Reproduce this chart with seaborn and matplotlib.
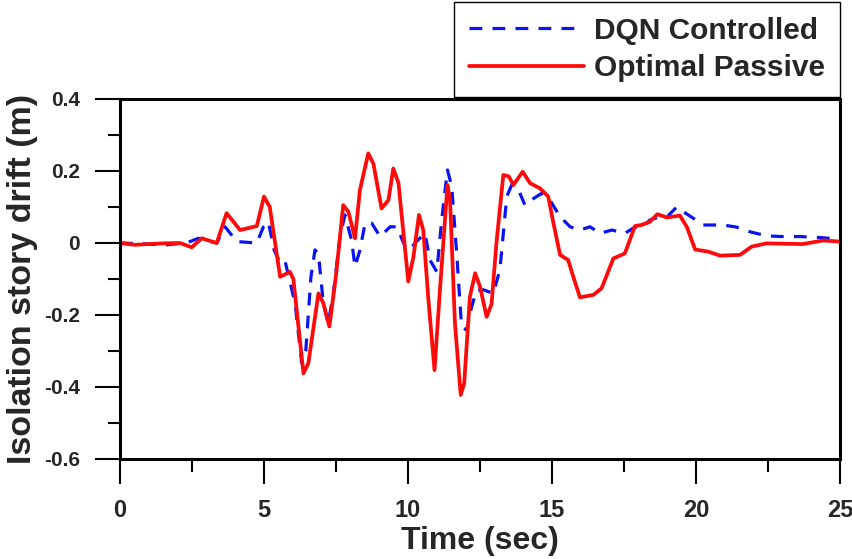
import matplotlib
matplotlib.use("Agg")
import matplotlib.pyplot as plt
import seaborn as sns
import numpy as np
import pandas as pd
from matplotlib.ticker import MultipleLocator, FuncFormatter

# ---- data ----
passive_t = [0, 0.5, 1.0, 1.5, 2.08, 2.49, 2.84, 3.36, 3.7, 4.17, 4.75, 5.0, 5.2, 5.56, 5.9, 6.02,
             6.37, 6.54, 6.89, 7.06, 7.27, 7.5, 7.75, 7.93, 8.16, 8.33, 8.62, 8.8, 9.08, 9.32, 9.49,
             9.67, 10.01, 10.19, 10.38, 10.53, 10.7, 10.92, 11.11, 11.37, 11.46, 11.63, 11.83, 11.95,
             12.15, 12.33, 12.5, 12.73, 12.9, 13.08, 13.31, 13.5, 13.66, 13.98, 14.24, 14.58, 14.87,
             15.05, 15.28, 15.56, 15.74, 15.97, 16.44, 16.72, 17.13, 17.53, 17.88, 18.1, 18.4, 18.66,
             18.98, 19.44, 19.68, 19.97, 20.43, 20.83, 21.53, 21.93, 22.45, 23.7, 24.42, 25.0]
passive_v = [0, -0.005, -0.003, -0.001, 0, -0.012, 0.013, 0, 0.083, 0.036, 0.047, 0.129, 0.10, -0.094,
             -0.08, -0.10, -0.362, -0.334, -0.14, -0.167, -0.232, -0.09, 0.105, 0.087, 0.013, 0.147,
             0.249, 0.22, 0.096, 0.119, 0.207, 0.166, -0.107, -0.038, 0.078, 0.036, -0.149, -0.353,
             -0.13, 0.161, 0.12, -0.223, -0.422, -0.39, -0.149, -0.084, -0.121, -0.205, -0.17, 0.008,
             0.189, 0.185, 0.161, 0.198, 0.166, 0.152, 0.129, 0.055, -0.033, -0.047, -0.094, -0.151,
             -0.144, -0.126, -0.043, -0.029, 0.047, 0.05, 0.059, 0.08, 0.071, 0.076, 0.045, -0.018,
             -0.024, -0.035, -0.033, -0.01, -0.001, -0.003, 0.007, 0.004]

dqn_t = [0, 1.0, 1.5, 2.0, 2.43, 2.72, 3.36, 3.65, 4.05, 4.75, 4.98, 5.15, 5.35, 5.56, 5.73, 6.08,
         6.31, 6.45, 6.63, 6.77, 6.89, 7.06, 7.23, 7.41, 7.64, 7.81, 8.04, 8.16, 8.33, 8.51, 8.74,
         9.03, 9.38, 9.61, 9.9, 10.07, 10.24, 10.59, 10.76, 11.0, 11.17, 11.37, 11.52, 11.69, 11.86,
         12.04, 12.21, 12.38, 12.62, 12.96, 13.19, 13.43, 13.6, 13.84, 14.06, 14.29, 14.64, 14.93,
         15.28, 15.63, 15.97, 16.32, 16.67, 17.08, 17.53, 17.88, 18.17, 18.4, 18.75, 19.0, 19.33,
         19.56, 19.9, 20.25, 20.95, 21.41, 21.88, 22.45, 22.92, 23.61, 24.31, 25.0]
dqn_v = [0, -0.003, -0.006, -0.002, 0.004, 0.013, 0, 0.045, 0.004, 0, 0.045, 0.059, -0.019, -0.056,
         -0.05, -0.168, -0.334, -0.3, -0.094, -0.019, -0.03, -0.168, -0.223, -0.14, 0.018, 0.078,
         0.008, -0.066, -0.02, 0.055, 0.055, 0.018, 0.045, 0.045, -0.01, -0.02, 0.0, 0.027, -0.047,
         -0.08, 0.064, 0.203, 0.156, -0.029, -0.232, -0.242, -0.177, -0.131, -0.13, -0.14, -0.075,
         0.129, 0.161, 0.147, 0.105, 0.12, 0.138, 0.119, 0.073, 0.045, 0.036, 0.045, 0.027, 0.036,
         0.027, 0.044, 0.045, 0.064, 0.073, 0.073, 0.10, 0.087, 0.069, 0.05, 0.05, 0.044, 0.031,
         0.02, 0.018, 0.018, 0.015, 0.011]

series_names = ["DQN Controlled", "Optimal Passive"]
x_ticks = [0, 5, 10, 15, 20, 25]
y_ticks = [-0.6, -0.4, -0.2, 0, 0.2, 0.4]

# ---- style ----
sns.set_style("ticks")
plt.rcParams["font.family"] = ["Liberation Sans", "DejaVu Sans"]
plt.rcParams["font.weight"] = "bold"
plt.rcParams["axes.unicode_minus"] = False

fig = plt.figure(figsize=(8.53, 5.59), dpi=100)
ax = fig.add_axes([120 / 853, 1 - 459 / 559, 720 / 853, 360 / 559])

df_dqn = pd.DataFrame({"t": dqn_t, "v": dqn_v})
df_pas = pd.DataFrame({"t": passive_t, "v": passive_v})

sns.lineplot(data=df_dqn, x="t", y="v", ax=ax, color="#0a14f0", lw=2.3,
             dashes=False, estimator=None, sort=False, label=series_names[0])
ax.lines[-1].set_dashes((4, 3.2))
sns.lineplot(data=df_pas, x="t", y="v", ax=ax, color="#ff0a0a", lw=2.7,
             estimator=None, sort=False, label=series_names[1])

ax.set_xlim(0, 25)
ax.set_ylim(-0.6, 0.4)
ax.set_xticks(x_ticks)
ax.set_yticks(y_ticks)
ax.xaxis.set_minor_locator(MultipleLocator(2.5))
ax.yaxis.set_minor_locator(MultipleLocator(0.1))
ax.yaxis.set_major_formatter(FuncFormatter(lambda v, p: "{:g}".format(round(v, 2))))
ax.xaxis.set_major_formatter(FuncFormatter(lambda v, p: "{:g}".format(v)))

ax.tick_params(axis="both", which="major", direction="out", length=18, width=1.5,
               color="black")
ax.tick_params(axis="both", which="minor", direction="out", length=9, width=1.5,
               color="black")
ax.tick_params(axis="x", which="major", labelsize=17, pad=11)
ax.tick_params(axis="y", which="major", labelsize=15, pad=11)
for lab in ax.get_xticklabels() + ax.get_yticklabels():
    lab.set_fontweight("bold")

for s in ax.spines.values():
    s.set_linewidth(2.2)
    s.set_color("black")

ax.set_xlabel("Time (sec)", fontsize=23, fontweight="bold", labelpad=3)
ax.set_ylabel("Isolation story drift (m)", fontsize=24.5, fontweight="bold", labelpad=4)

leg = ax.legend(loc="lower right", bbox_to_anchor=(840 / 853, 1 - 97 / 559),
                bbox_transform=fig.transFigure, prop={"size": 21.5, "weight": "bold"},
                frameon=True, fancybox=False, framealpha=1, edgecolor="black",
                handlelength=3.85, handletextpad=0.33, labelspacing=0.31, borderpad=0.5,
                borderaxespad=0)
leg.get_frame().set_linewidth(1)

fig.savefig("out.png", dpi=100)
